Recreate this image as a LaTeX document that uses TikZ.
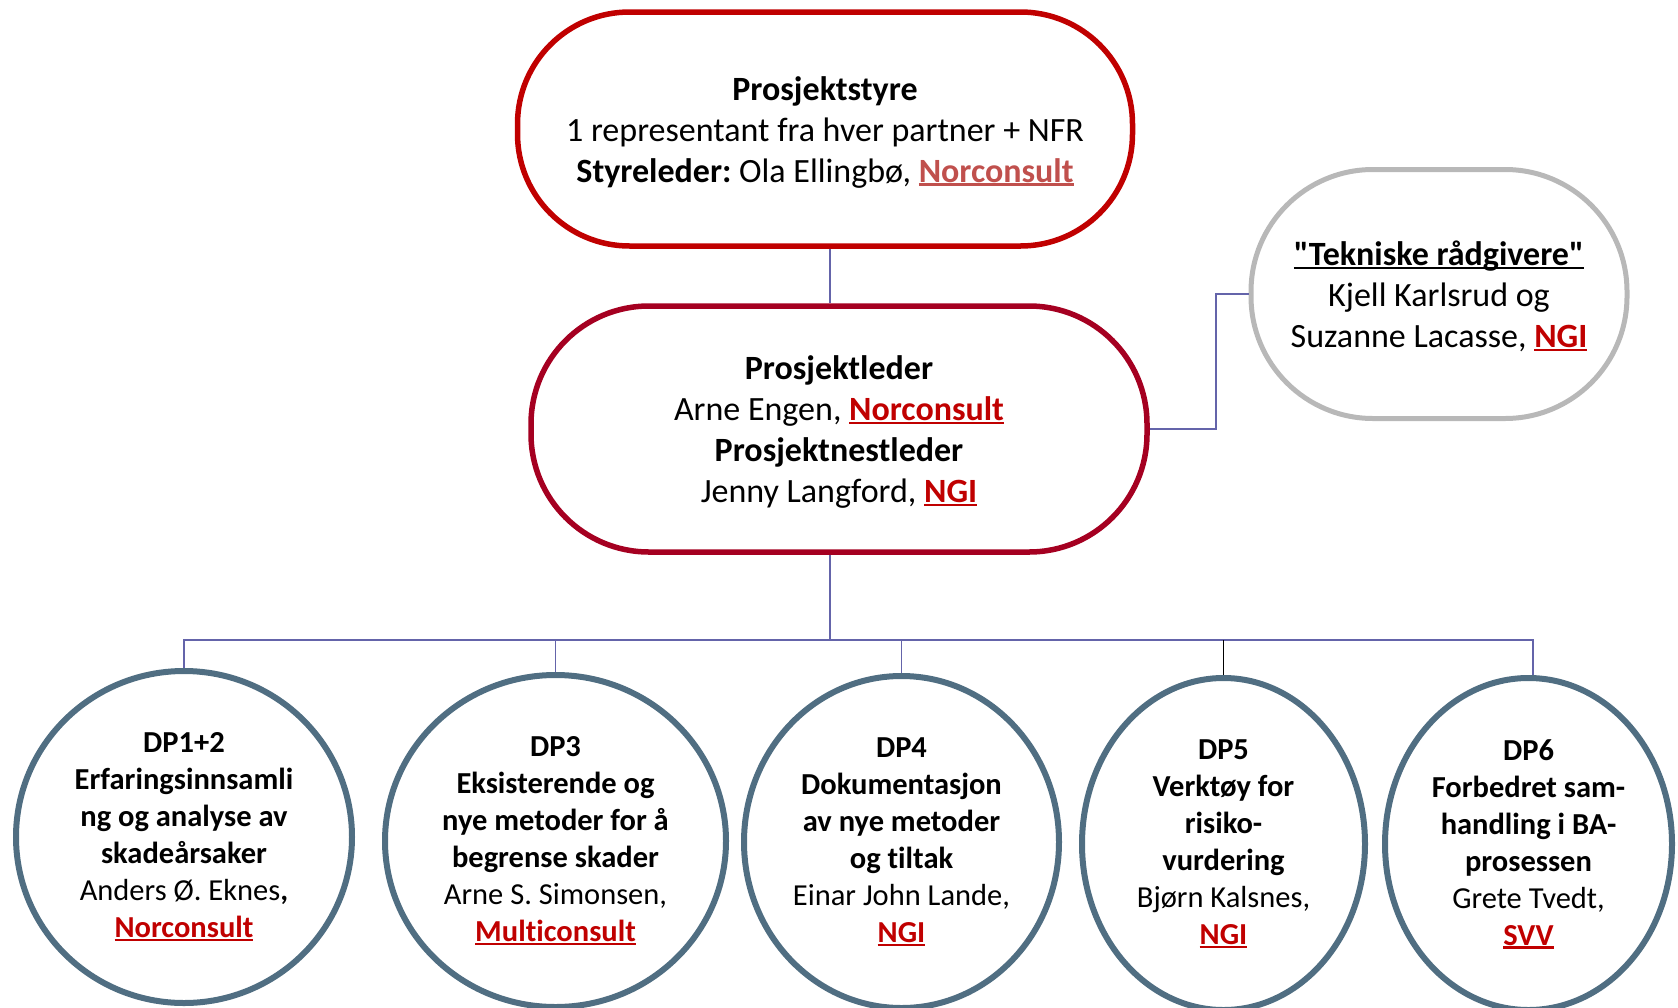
\documentclass[tikz,border=0pt]{standalone}
\usepackage{fontspec}
\setmainfont{Carlito}[Ligatures={NoCommon}]
\usetikzlibrary{shapes.geometric}
\frenchspacing
\definecolor{topred}{RGB}{192,0,0}
\definecolor{leadred}{RGB}{165,0,33}
\definecolor{advgray}{RGB}{184,184,184}
\definecolor{circ}{RGB}{80,110,130}
\definecolor{conn}{RGB}{100,100,170}
\definecolor{compred}{RGB}{192,0,0}
\definecolor{lightred}{RGB}{192,80,77}
\newcommand\ulc[1]{\setbox0\hbox{#1}\rlap{\rule[-0.11em]{\wd0}{0.07em}}\box0}
\newcommand\co[1]{{\color{compred}\bfseries\ulc{#1}}}
\newcommand\sq{\XeTeXglyph\XeTeXcharglyph"22\relax}
\begin{document}
\begin{tikzpicture}[x=1pt,y=-1pt,
  bigbox/.style={line width=5.5pt, inner sep=0pt},
  bigtext/.style={align=center, inner sep=0pt, font=\fontsize{34}{41}\selectfont},
  dpcirc/.style={ellipse, draw=circ, line width=6pt, align=center, inner sep=0pt,
    font=\fontsize{30.5}{37}\selectfont},
  conn/.style={draw=conn, line width=1.5pt}]
\useasboundingbox (0,0) rectangle (1678,1007);

\node[bigbox, draw=topred, rounded corners=112pt, minimum width=615pt, minimum height=234pt]
  (top) at (825,129) {};
\node[bigtext] (toptext) at (825,132)
  {\textbf{Prosjektstyre}\\1 representant fra hver partner + NFR\\
   \textbf{Styreleder:} Ola Ellingbø, {\color{lightred}\bfseries\ulc{Norconsult}}};

\node[bigbox, draw=leadred, rounded corners=118pt, minimum width=616pt, minimum height=246pt]
  (lead) at (839,429) {};
\node[bigtext] (leadtext) at (839,432)
  {\textbf{Prosjektleder}\\Arne Engen, \co{Norconsult}\\
   \textbf{Prosjektnestleder}\\Jenny Langford, \co{NGI}};

\node[bigbox, draw=advgray, line width=5pt, rounded corners=122pt, minimum width=376pt, minimum height=249pt]
  (adv) at (1439,294) {};
\node[bigtext] (advtext) at (1439,296)
  {{\bfseries\ulc{\sq Tekniske rådgivere\sq}}\\Kjell Karlsrud og\\Suzanne Lacasse, \co{NGI}};

\node[dpcirc, minimum width=336pt, minimum height=332pt] (dp1) at (184,837)
  {\textbf{DP1+2}\\\textbf{Erfaringsinnsamli}\\\textbf{ng og analyse av}\\\textbf{skadeårsaker}\\
   Anders Ø. Eknes\textbf{,}\\\co{Norconsult}};
\node[dpcirc, minimum width=341pt, minimum height=332pt] (dp3) at (555.5,841)
  {\textbf{DP3}\\\textbf{Eksisterende og}\\\textbf{nye metoder for å}\\\textbf{begrense skader}\\
   Arne S. Simonsen,\\\co{Multiconsult}};
\node[dpcirc, minimum width=315pt, minimum height=332pt] (dp4) at (901.5,842)
  {\textbf{DP4}\\\textbf{Dokumentasjon}\\\textbf{av nye metoder}\\\textbf{og tiltak}\\
   Einar John Lande,\\\co{NGI}};
\node[dpcirc, minimum width=283pt, minimum height=332pt] (dp5) at (1223.5,844)
  {\textbf{DP5}\\\textbf{Verktøy for}\\\textbf{risiko-}\\\textbf{vurdering}\\
   Bjørn Kalsnes,\\\co{NGI}};
\node[dpcirc, minimum width=287pt, minimum height=332pt] (dp6) at (1528.5,844)
  {\textbf{DP6}\\\textbf{Forbedret sam-}\\\textbf{handling i BA-}\\\textbf{prosessen}\\
   Grete Tvedt,\\\co{SVV}};

\coordinate (c1) at (830,640);
\coordinate (ca) at (1216,294);
\coordinate (c6) at (1533,640);

\draw[conn] (top.south -| c1) -- (lead.north -| c1);
\draw[conn] (lead.south -| c1) -- (c1);
\draw[conn] (dp1.north) -- (dp1.north |- c1) -- (c6) -- (c6 |- dp6.north);
\draw[conn] (dp3.north) -- (dp3.north |- c1);
\draw[conn] (dp4.north) -- (dp4.north |- c1);
\draw[line width=1.5pt, black] (dp5.north) -- (dp5.north |- c1);
\draw[conn] (lead.east) -- (lead.east -| ca) |- (adv.west);
\end{tikzpicture}
\end{document}
